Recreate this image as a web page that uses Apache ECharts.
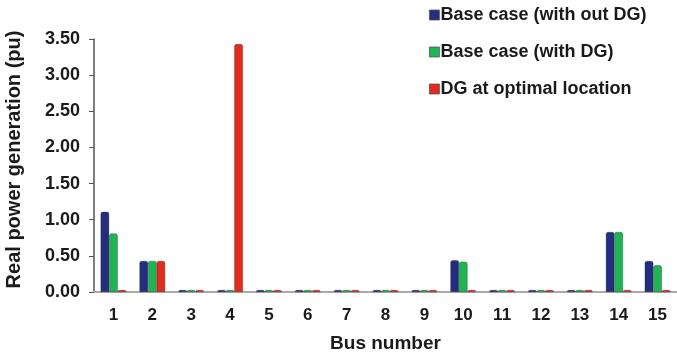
<!DOCTYPE html>
<html><head><meta charset="utf-8">
<script src="https://cdn.jsdelivr.net/npm/echarts@6/dist/echarts.min.js"></script>
<style>html,body{margin:0;padding:0;background:#fff}#c{width:677px;height:356px}</style>
</head><body><div id="c"></div>
<script>
const categories = ['1','2','3','4','5','6','7','8','9','10','11','12','13','14','15'];
const withoutDG = [1.11,0.43,0,0,0,0,0,0,0,0.44,0,0,0,0.83,0.43];
const withDG    = [0.81,0.43,0,0,0,0,0,0,0,0.42,0,0,0,0.83,0.37];
const optimalDG = [0,0.43,0,3.43,0,0,0,0,0,0,0,0,0,0,0];
const seriesNames = ['Base case (with out DG)','Base case (with DG)','DG at optimal location'];
const colors = ['#232f7e','#1fb552','#e32a1f'];

const font = 'Arial, "Liberation Sans", sans-serif';
const chart = echarts.init(document.getElementById('c'));
const mk = (name, data, color) => ({
  name, type:'bar', data, barGap:'0%', barCategoryGap:'34%', barMinHeight:2,
  itemStyle:{color, borderColor:'rgba(20,20,20,0.6)', borderWidth:0.5, borderRadius:[2,2,0,0]}
});
chart.setOption({
  animation:false,
  grid:{left:94,right:0,top:39,bottom:64,containLabel:false,outerBoundsMode:'none'},
  legend:{
    orient:'vertical', left:424, top:1, itemGap:19, itemWidth:10, itemHeight:10,
    icon:'rect',
    textStyle:{fontFamily:font,fontWeight:'bold',fontSize:18,color:'#1a1a1a',padding:[0,0,0,-4]},
    data:seriesNames.map((n,i)=>({name:n,itemStyle:{borderColor:'#555',borderWidth:0.8}}))
  },
  xAxis:{
    type:'category', data:categories,
    name:'Bus number', nameLocation:'middle', nameGap:42,
    nameTextStyle:{fontFamily:font,fontWeight:'bold',fontSize:19,color:'#1a1a1a'},
    axisLine:{lineStyle:{color:'#aaa',width:2}},
    axisTick:{show:false},
    axisLabel:{fontFamily:font,fontWeight:'bold',fontSize:17,color:'#1a1a1a',margin:15}
  },
  yAxis:{
    type:'value', min:0, max:3.5, interval:0.5,
    name:'Real power generation (pu)', nameLocation:'middle', nameGap:70,
    nameTextStyle:{fontFamily:font,fontWeight:'bold',fontSize:20,color:'#1a1a1a',padding:[0,0,0,12]},
    axisLine:{show:true,lineStyle:{color:'#555',width:1.5}},
    axisTick:{show:true,length:5,lineStyle:{color:'#555'}},
    splitLine:{show:false},
    axisLabel:{fontFamily:font,fontWeight:'bold',fontSize:18,color:'#1a1a1a',margin:14,
      formatter:v=>v.toFixed(2)}
  },
  series:[
    mk(seriesNames[0], withoutDG, colors[0]),
    mk(seriesNames[1], withDG, colors[1]),
    mk(seriesNames[2], optimalDG, colors[2])
  ]
});
</script></body></html>
